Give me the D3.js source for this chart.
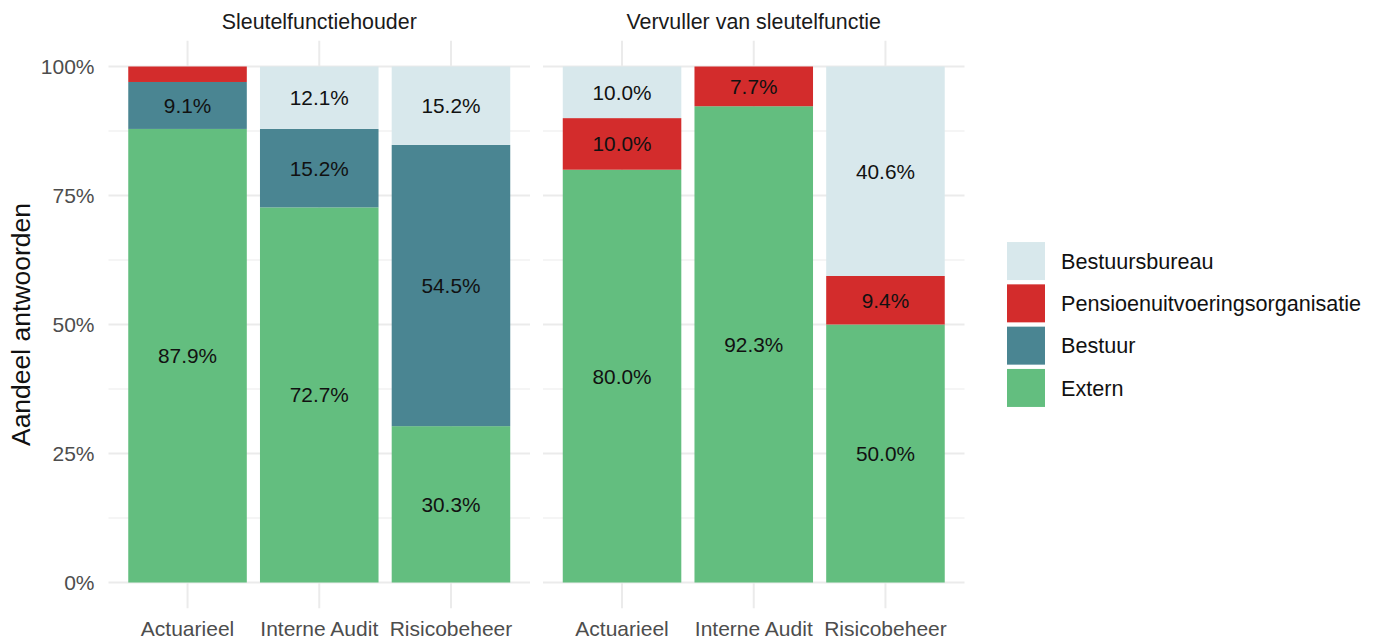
<!DOCTYPE html>
<html>
<head>
<meta charset="utf-8">
<script src="https://cdn.jsdelivr.net/npm/d3@7"></script>
<style>
  body { margin: 0; background: #fff; }
  svg text { font-family: "Liberation Sans", Arial, Helvetica, sans-serif; }
</style>
</head>
<body>
<svg id="chart" width="1376" height="641"></svg>
<script>
// data (percentages)
const facets = ["Sleutelfunctiehouder", "Vervuller van sleutelfunctie"];
const functies = ["Actuarieel", "Interne Audit", "Risicobeheer"];
// stack order, bottom to top
const categories = ["Extern", "Bestuur", "Pensioenuitvoeringsorganisatie", "Bestuursbureau"];
const colors = ["#63be7f", "#4a8592", "#d32c2c", "#d8e8ec"];
// one value per facet x functie: [SFH Act, SFH IA, SFH Risico, VvS Act, VvS IA, VvS Risico]
const externVals = [87.9, 72.7, 30.3, 80.0, 92.3, 50.0];
const bestuurVals = [9.1, 15.2, 54.5, 0, 0, 0];
const pensioenVals = [3.0, 0, 0, 10.0, 7.7, 9.4];
const bureauVals = [0, 12.1, 15.2, 10.0, 0, 40.6];
const yTicks = [0, 0.25, 0.5, 0.75, 1];
const yMinor = [0.125, 0.375, 0.625, 0.875];

const seriesVals = [externVals, bestuurVals, pensioenVals, bureauVals];

// layout
const panelTop = 40.7, panelBottom = 608.3;
const panels = [[108.5, 530], [543, 964.5]];
const legendX = 1007, keySize = 38, keyGap = 4.3;

const svg = d3.select("#chart");

const y = d3.scaleLinear()
    .domain([-0.05, 1.05])
    .range([panelBottom, panelTop]);

facets.forEach(function(facet, fi) {
    let x = d3.scaleBand()
        .domain(functies)
        .range(panels[fi])
        .paddingInner(0.1)
        .paddingOuter(0.15);

    let g = svg.append("g").attr("class", "panel");

    // grid
    g.selectAll("line.minor")
        .data(yMinor)
        .enter()
        .append("line")
        .attr("x1", panels[fi][0]).attr("x2", panels[fi][1])
        .attr("y1", d => y(d)).attr("y2", d => y(d))
        .attr("stroke", "#ebebeb").attr("stroke-width", 1);

    g.selectAll("line.major")
        .data(yTicks)
        .enter()
        .append("line")
        .attr("x1", panels[fi][0]).attr("x2", panels[fi][1])
        .attr("y1", d => y(d)).attr("y2", d => y(d))
        .attr("stroke", "#ebebeb").attr("stroke-width", 2);

    g.selectAll("line.vgrid")
        .data(functies)
        .enter()
        .append("line")
        .attr("x1", d => x(d) + x.bandwidth() / 2)
        .attr("x2", d => x(d) + x.bandwidth() / 2)
        .attr("y1", panelTop).attr("y2", panelBottom)
        .attr("stroke", "#ebebeb").attr("stroke-width", 2);

    // stacked segments
    let rows = functies.map(function(f, i) {
        let row = { functie: f };
        categories.forEach(function(c, ci) {
            row[c] = seriesVals[ci][fi * functies.length + i] / 100;
        });
        return row;
    });
    let stacked = d3.stack().keys(categories)(rows);

    stacked.forEach(function(layer, li) {
        g.selectAll("rect.seg" + li)
            .data(layer.filter(d => d[1] - d[0] > 0))
            .enter()
            .append("rect")
            .attr("x", d => x(d.data.functie))
            .attr("width", x.bandwidth())
            .attr("y", d => y(d[1]))
            .attr("height", d => y(d[0]) - y(d[1]))
            .attr("fill", colors[li]);

        g.selectAll("text.lab" + li)
            .data(layer.filter(d => d[1] - d[0] >= 0.05))
            .enter()
            .append("text")
            .attr("x", d => x(d.data.functie) + x.bandwidth() / 2)
            .attr("y", d => y((d[0] + d[1]) / 2))
            .attr("dy", "0.36em")
            .attr("text-anchor", "middle")
            .attr("font-size", 20.8)
            .attr("fill", "#111")
            .text(d => d3.format(".1f")((d[1] - d[0]) * 100) + "%");
    });

    // x axis
    let xAxis = d3.axisBottom(x).tickSize(0).tickPadding(13);
    let ax = g.append("g")
        .attr("transform", "translate(0," + panelBottom + ")")
        .call(xAxis);
    ax.select(".domain").remove();
    ax.selectAll("text")
        .attr("font-size", 21)
        .attr("fill", "#4d4d4d")
        .style("font-family", "Liberation Sans, Arial, sans-serif");

    // strip title
    g.append("text")
        .attr("x", (panels[fi][0] + panels[fi][1]) / 2)
        .attr("y", 29)
        .attr("text-anchor", "middle")
        .attr("font-size", 21.4)
        .attr("fill", "#1a1a1a")
        .text(facet);
});

// y axis
let yAxis = d3.axisLeft(y)
    .tickValues(yTicks)
    .tickSize(0)
    .tickPadding(14)
    .tickFormat(d3.format(".0%"));
let ay = svg.append("g")
    .attr("transform", "translate(" + panels[0][0] + ",0)")
    .call(yAxis);
ay.select(".domain").remove();
ay.selectAll("text")
    .attr("font-size", 21)
    .attr("fill", "#4d4d4d")
    .style("font-family", "Liberation Sans, Arial, sans-serif");

svg.append("text")
    .attr("transform", "translate(30," + y(0.5) + ") rotate(-90)")
    .attr("text-anchor", "middle")
    .attr("font-size", 26.5)
    .attr("fill", "#111")
    .text("Aandeel antwoorden");

// legend, top to bottom reversed from stack order
let legendItems = categories.map((c, i) => ({ name: c, color: colors[i] })).reverse();
let legendTop = y(0.5) - (legendItems.length * keySize + (legendItems.length - 1) * keyGap) / 2;

let legend = svg.append("g")
    .selectAll("g")
    .data(legendItems)
    .enter()
    .append("g")
    .attr("transform", (d, i) => "translate(" + legendX + "," + (legendTop + i * (keySize + keyGap)) + ")");

legend.append("rect")
    .attr("width", keySize)
    .attr("height", keySize)
    .attr("fill", d => d.color);

legend.append("text")
    .attr("x", keySize + 16)
    .attr("y", keySize / 2)
    .attr("dy", "0.36em")
    .attr("font-size", 21.6)
    .attr("fill", "#111")
    .text(d => d.name);
</script>
</body>
</html>
